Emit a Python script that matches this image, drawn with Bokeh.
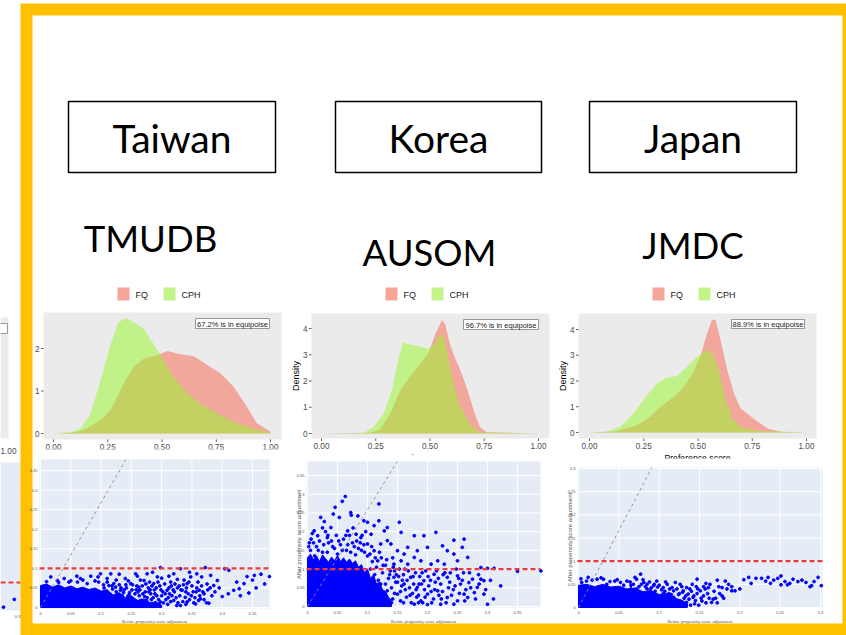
import math
from bokeh.plotting import figure
from bokeh.models import Range1d
from bokeh.core.properties import value
from bokeh.embed import file_html
from bokeh.resources import INLINE

# ---------------- data ----------------
countries = ["Taiwan", "Korea", "Japan"]
databases = ["TMUDB", "AUSOM", "JMDC"]
equipoise_notes = ["67.2% is in equipoise", "96.7% is in equipoise", "88.9% is in equipoise"]
groups = ["FQ", "CPH"]
density_title = "Density"
pref_title = "Preference score"
before_title = "Before propensity score adjustment"
after_title = "After propensity score adjustment"

pref_ticks = [0.0, 0.25, 0.5, 0.75, 1.0]
pref_tick_labels = ["0.00", "0.25", "0.50", "0.75", "1.00"]
tw_density_ticks = [0, 1, 2]
ko_density_ticks = [0, 1, 2, 3, 4]
jp_density_ticks = [0, 1, 2, 3, 4]

# preference-score densities
tw_fq_x = [0.0, 0.08, 0.14, 0.217, 0.263, 0.324, 0.37, 0.415, 0.478, 0.524, 0.57, 0.616, 0.647, 0.708, 0.77, 0.83, 0.891, 0.937, 1.0]
tw_fq_y = [0.0, 0.01, 0.08, 0.31, 0.55, 1.18, 1.57, 1.76, 1.84, 1.94, 1.88, 1.84, 1.82, 1.61, 1.41, 1.10, 0.63, 0.24, 0.04]
tw_cph_x = [0.0, 0.086, 0.124, 0.17, 0.217, 0.263, 0.30, 0.332, 0.37, 0.415, 0.462, 0.508, 0.554, 0.616, 0.677, 0.754, 0.83, 0.92, 1.0]
tw_cph_y = [0.0, 0.04, 0.11, 0.46, 1.25, 2.10, 2.62, 2.72, 2.62, 2.46, 2.10, 1.72, 1.33, 0.94, 0.70, 0.47, 0.27, 0.12, 0.02]

ko_fq_x = [0.0, 0.225, 0.27, 0.317, 0.363, 0.41, 0.455, 0.494, 0.525, 0.555, 0.57, 0.594, 0.617, 0.647, 0.678, 0.709, 0.73, 0.762, 1.0]
ko_fq_y = [0.0, 0.03, 0.15, 0.76, 1.64, 2.2, 2.65, 3.09, 3.79, 4.32, 4.16, 3.34, 2.84, 2.27, 1.51, 0.69, 0.25, 0.05, 0.0]
ko_cph_x = [0.0, 0.195, 0.24, 0.287, 0.325, 0.356, 0.376, 0.41, 0.455, 0.494, 0.525, 0.548, 0.566, 0.586, 0.609, 0.632, 0.655, 0.686, 0.73, 1.0]
ko_cph_y = [0.0, 0.03, 0.25, 0.76, 1.64, 2.9, 3.47, 3.38, 3.31, 3.22, 3.47, 3.79, 3.66, 2.78, 1.89, 1.14, 0.82, 0.32, 0.05, 0.0]

jp_fq_x = [0.0, 0.126, 0.219, 0.28, 0.327, 0.388, 0.434, 0.48, 0.512, 0.542, 0.565, 0.581, 0.604, 0.635, 0.666, 0.696, 0.727, 0.766, 0.82, 0.881, 1.0]
jp_fq_y = [0.0, 0.05, 0.28, 0.61, 1.0, 1.39, 1.77, 2.36, 3.0, 3.84, 4.39, 4.36, 3.59, 2.42, 1.51, 0.93, 0.74, 0.48, 0.16, 0.03, 0.0]
jp_cph_x = [0.0, 0.08, 0.142, 0.203, 0.265, 0.311, 0.357, 0.404, 0.45, 0.496, 0.542, 0.565, 0.596, 0.627, 0.658, 0.696, 0.773, 1.0]
jp_cph_y = [0.0, 0.03, 0.22, 0.74, 1.45, 1.9, 2.14, 2.19, 2.55, 2.94, 3.2, 3.13, 2.42, 1.26, 0.54, 0.22, 0.06, 0.0]

# standardized differences: before vs after adjustment
smd_ticks = [0.0, 0.05, 0.1, 0.15, 0.2, 0.25, 0.3, 0.35]
smd_tick_labels = ["0", "0.05", "0.1", "0.15", "0.2", "0.25", "0.3", "0.35"]
jp_smd_ticks = [0.0, 0.05, 0.1, 0.15, 0.2, 0.25, 0.3]
jp_smd_tick_labels = ["0", "0.05", "0.1", "0.15", "0.2", "0.25", "0.3"]
threshold = 0.1

tw_diag_x = [0.0, 0.141]
tw_diag_y = [0.0, 0.378]
ko_diag_x = [0.0, 0.150]
ko_diag_y = [0.0, 0.388]
jp_diag_x = [0.0, 0.091]
jp_diag_y = [0.0, 0.302]

# densest part of each cloud (solid blue in the picture)
tw_cloud_x = [0.0, 0.0, 0.01, 0.02, 0.03, 0.04, 0.05, 0.06, 0.07, 0.08, 0.09, 0.10, 0.11, 0.12,
              0.13, 0.14, 0.15, 0.16, 0.17, 0.18, 0.19, 0.20, 0.20]
tw_cloud_y = [0.0, 0.056, 0.060, 0.052, 0.058, 0.050, 0.055, 0.048, 0.052, 0.046, 0.050, 0.042,
              0.045, 0.032, 0.038, 0.025, 0.030, 0.018, 0.022, 0.012, 0.014, 0.006, 0.0]
ko_cloud_x = [0.0, 0.0, 0.005, 0.01, 0.015, 0.02, 0.025, 0.03, 0.035, 0.04, 0.045, 0.05, 0.055,
              0.06, 0.065, 0.07, 0.075, 0.08, 0.085, 0.09, 0.095, 0.10, 0.105, 0.11, 0.115, 0.12,
              0.125, 0.13, 0.135, 0.14, 0.14]
ko_cloud_y = [0.0, 0.13, 0.14, 0.125, 0.135, 0.12, 0.138, 0.128, 0.118, 0.132, 0.122, 0.136, 0.12,
              0.13, 0.118, 0.127, 0.115, 0.122, 0.105, 0.112, 0.09, 0.10, 0.075, 0.085, 0.06, 0.065,
              0.045, 0.04, 0.025, 0.015, 0.0]
jp_cloud_x = [0.0, 0.0, 0.01, 0.02, 0.03, 0.04, 0.05, 0.06, 0.07, 0.08, 0.09, 0.10, 0.11, 0.12,
              0.13, 0.135, 0.135]
jp_cloud_y = [0.0, 0.048, 0.050, 0.045, 0.050, 0.044, 0.046, 0.040, 0.042, 0.034, 0.036, 0.028,
              0.030, 0.020, 0.014, 0.008, 0.0]

tw_points = [
    (0.378, 0.079), (0.364, 0.085), (0.353, 0.082), (0.341, 0.079), (0.356, 0.050), (0.344, 0.037),
    (0.336, 0.061), (0.328, 0.048), (0.324, 0.065), (0.319, 0.044), (0.300, 0.028), (0.304, 0.099),
    (0.311, 0.095), (0.292, 0.069), (0.286, 0.056), (0.281, 0.082), (0.272, 0.102), (0.278, 0.011),
    (0.264, 0.022), (0.262, 0.044), (0.256, 0.009), (0.266, 0.078), (0.258, 0.086), (0.248, 0.078),
    (0.242, 0.061), (0.234, 0.044), (0.239, 0.026), (0.231, 0.099), (0.220, 0.086), (0.215, 0.065),
    (0.209, 0.044), (0.198, 0.102), (0.193, 0.078), (0.187, 0.061), (0.182, 0.035), (0.176, 0.086),
    (0.171, 0.069), (0.162, 0.052), (0.157, 0.086), (0.149, 0.061), (0.140, 0.074), (0.132, 0.044),
    (0.121, 0.061), (0.116, 0.086), (0.110, 0.074), (0.099, 0.086), (0.096, 0.065), (0.083, 0.080),
    (0.077, 0.061), (0.066, 0.074), (0.061, 0.065), (0.047, 0.065), (0.039, 0.074), (0.028, 0.069),
    (0.017, 0.078), (0.198, 0.014), (0.220, 0.018), (0.231, 0.005), (0.242, 0.014),
    (0.105, 0.050), (0.112, 0.035), (0.118, 0.055), (0.125, 0.040), (0.130, 0.058), (0.135, 0.030),
    (0.142, 0.050), (0.147, 0.038), (0.152, 0.058), (0.158, 0.045), (0.163, 0.030), (0.168, 0.055),
    (0.173, 0.040), (0.178, 0.050), (0.183, 0.020), (0.188, 0.045), (0.192, 0.030), (0.197, 0.055),
    (0.202, 0.040), (0.207, 0.020), (0.212, 0.050), (0.217, 0.030), (0.222, 0.060), (0.227, 0.012),
    (0.232, 0.045), (0.237, 0.070), (0.244, 0.035), (0.250, 0.055), (0.255, 0.025), (0.260, 0.065),
    (0.268, 0.040), (0.275, 0.060), (0.283, 0.030), (0.170, 0.010), (0.160, 0.015), (0.150, 0.022),
    (0.140, 0.012), (0.210, 0.008), (0.190, 0.012), (0.180, 0.065), (0.165, 0.070), (0.145, 0.068),
    (0.125, 0.070), (0.110, 0.065), (0.090, 0.068), (0.070, 0.070), (0.050, 0.068), (0.030, 0.064),
    (0.010, 0.066),
    (0.102, 0.020), (0.108, 0.012), (0.115, 0.025), (0.122, 0.018), (0.128, 0.008), (0.133, 0.020),
    (0.138, 0.045), (0.144, 0.028), (0.155, 0.010), (0.161, 0.040), (0.166, 0.018), (0.172, 0.028),
    (0.177, 0.012), (0.181, 0.045), (0.186, 0.025), (0.191, 0.050), (0.195, 0.020), (0.200, 0.030),
    (0.205, 0.060), (0.213, 0.035), (0.219, 0.045), (0.224, 0.025), (0.229, 0.055), (0.235, 0.015),
    (0.241, 0.050), (0.246, 0.020), (0.252, 0.040), (0.258, 0.050), (0.263, 0.030), (0.270, 0.020),
    (0.276, 0.045), (0.288, 0.040), (0.295, 0.050), (0.310, 0.035), (0.330, 0.030), (0.350, 0.070),
    (0.370, 0.060), (0.200, 0.075), (0.212, 0.080), (0.226, 0.072), (0.246, 0.090), (0.185, 0.090),
    (0.160, 0.080), (0.130, 0.085), (0.095, 0.078), (0.060, 0.080),
    (0.104, 0.058), (0.109, 0.042), (0.113, 0.056), (0.119, 0.047), (0.124, 0.052), (0.127, 0.034),
    (0.133, 0.050), (0.137, 0.038), (0.141, 0.058), (0.146, 0.032), (0.151, 0.045), (0.156, 0.035),
    (0.159, 0.055), (0.164, 0.045), (0.169, 0.035), (0.174, 0.060), (0.176, 0.025), (0.179, 0.040),
    (0.184, 0.055), (0.189, 0.035), (0.194, 0.065), (0.199, 0.045), (0.203, 0.012), (0.206, 0.035),
    (0.211, 0.025), (0.216, 0.055), (0.221, 0.040), (0.226, 0.050), (0.230, 0.030), (0.236, 0.058),
    (0.240, 0.040), (0.245, 0.065), (0.249, 0.030), (0.253, 0.012), (0.257, 0.040), (0.261, 0.018),
    (0.266, 0.055), (0.270, 0.035), (0.274, 0.012), (0.280, 0.050), (0.150, 0.005), (0.165, 0.008),
    (0.185, 0.005), (0.175, 0.018), (0.195, 0.008), (0.215, 0.015), (0.225, 0.005), (0.240, 0.008),
]
ko_points = [
    (0.063, 0.294), (0.058, 0.281), (0.046, 0.265), (0.119, 0.274), (0.072, 0.251), (0.073, 0.244),
    (0.043, 0.247), (0.022, 0.238), (0.028, 0.227), (0.084, 0.242), (0.094, 0.229), (0.100, 0.225),
    (0.111, 0.216), (0.119, 0.229), (0.053, 0.238), (0.153, 0.225), (0.128, 0.202), (0.133, 0.211),
    (0.214, 0.198), (0.156, 0.198), (0.178, 0.189), (0.194, 0.189), (0.244, 0.177), (0.261, 0.180),
    (0.233, 0.149), (0.244, 0.140), (0.225, 0.162), (0.200, 0.158), (0.183, 0.149), (0.167, 0.158),
    (0.161, 0.140), (0.150, 0.149), (0.139, 0.167), (0.133, 0.176), (0.122, 0.167), (0.258, 0.158),
    (0.267, 0.131), (0.250, 0.122), (0.228, 0.113), (0.217, 0.122), (0.206, 0.113), (0.189, 0.122),
    (0.178, 0.131), (0.167, 0.113), (0.156, 0.122), (0.144, 0.113), (0.289, 0.104), (0.300, 0.102),
    (0.311, 0.102), (0.350, 0.094), (0.389, 0.095), (0.294, 0.069), (0.289, 0.073), (0.275, 0.073),
    (0.269, 0.064), (0.283, 0.051), (0.294, 0.033), (0.300, 0.006), (0.278, 0.037), (0.261, 0.033),
    (0.267, 0.024), (0.250, 0.015), (0.244, 0.006), (0.233, 0.024), (0.222, 0.006), (0.217, 0.042),
    (0.200, 0.033), (0.189, 0.015), (0.178, 0.006), (0.183, 0.051), (0.172, 0.078), (0.161, 0.060),
    (0.150, 0.033), (0.144, 0.078), (0.133, 0.042), (0.122, 0.060), (0.128, 0.015), (0.233, 0.078),
    (0.250, 0.082), (0.211, 0.086), (0.194, 0.069), (0.222, 0.060),
    (0.011, 0.202), (0.006, 0.180), (0.017, 0.189), (0.033, 0.184), (0.039, 0.211), (0.067, 0.202),
    (0.081, 0.193), (0.089, 0.184), (0.106, 0.193), (0.100, 0.167), (0.111, 0.149), (0.117, 0.122),
    (0.005, 0.150), (0.015, 0.160), (0.025, 0.145), (0.035, 0.170), (0.045, 0.155), (0.055, 0.165),
    (0.065, 0.150), (0.075, 0.170), (0.085, 0.155), (0.095, 0.145), (0.012, 0.135), (0.050, 0.140),
    (0.080, 0.138), (0.105, 0.100), (0.112, 0.085), (0.118, 0.070), (0.125, 0.090), (0.130, 0.060),
    (0.135, 0.075), (0.140, 0.050), (0.145, 0.095), (0.150, 0.065), (0.155, 0.040), (0.160, 0.085),
    (0.165, 0.025), (0.170, 0.050), (0.175, 0.035), (0.180, 0.090), (0.185, 0.030), (0.190, 0.060),
    (0.195, 0.045), (0.205, 0.070), (0.210, 0.020), (0.215, 0.095), (0.225, 0.040), (0.235, 0.050),
    (0.240, 0.030), (0.255, 0.060), (0.260, 0.090),
    (0.003, 0.170), (0.008, 0.195), (0.020, 0.175), (0.030, 0.200), (0.040, 0.175), (0.048, 0.190),
    (0.060, 0.180), (0.070, 0.190), (0.078, 0.160), (0.088, 0.170), (0.097, 0.200), (0.104, 0.140),
    (0.108, 0.120), (0.115, 0.105), (0.123, 0.130), (0.130, 0.110), (0.138, 0.095), (0.142, 0.130),
    (0.148, 0.085), (0.153, 0.100), (0.158, 0.070), (0.163, 0.045), (0.168, 0.095), (0.173, 0.010),
    (0.177, 0.060), (0.182, 0.025), (0.187, 0.080), (0.192, 0.010), (0.197, 0.095), (0.202, 0.055),
    (0.207, 0.010), (0.212, 0.045), (0.218, 0.075), (0.223, 0.020), (0.229, 0.090), (0.237, 0.065),
    (0.243, 0.045), (0.248, 0.100), (0.253, 0.035), (0.258, 0.070), (0.264, 0.045), (0.270, 0.090),
    (0.280, 0.020), (0.285, 0.085), (0.297, 0.045), (0.305, 0.070), (0.310, 0.020), (0.322, 0.055),
    (0.140, 0.010), (0.120, 0.030), (0.110, 0.020), (0.155, 0.015),
    (0.002, 0.160), (0.010, 0.170), (0.018, 0.150), (0.027, 0.165), (0.033, 0.145), (0.042, 0.160),
    (0.052, 0.175), (0.058, 0.150), (0.067, 0.165), (0.072, 0.145), (0.082, 0.175), (0.090, 0.150),
    (0.094, 0.165), (0.100, 0.135), (0.107, 0.160), (0.113, 0.130), (0.120, 0.145), (0.126, 0.110),
    (0.132, 0.125), (0.137, 0.085), (0.143, 0.105), (0.147, 0.065), (0.152, 0.080), (0.157, 0.055),
    (0.162, 0.100), (0.166, 0.070), (0.171, 0.030), (0.176, 0.080), (0.181, 0.045), (0.186, 0.060),
    (0.191, 0.090), (0.196, 0.025), (0.201, 0.080), (0.206, 0.040), (0.213, 0.065), (0.219, 0.030),
    (0.226, 0.085), (0.231, 0.010), (0.238, 0.090), (0.246, 0.055), (0.252, 0.075), (0.262, 0.015),
    (0.272, 0.050), (0.286, 0.060), (0.145, 0.035), (0.160, 0.010), (0.185, 0.010), (0.200, 0.005),
    (0.130, 0.005), (0.142, 0.020), (0.034, 0.190), (0.064, 0.190), (0.091, 0.190), (0.025, 0.210),
    (0.076, 0.210),
]
jp_points = [
    (0.211, 0.065), (0.214, 0.052), (0.220, 0.063), (0.227, 0.063), (0.232, 0.057), (0.235, 0.065),
    (0.238, 0.052), (0.242, 0.059), (0.247, 0.063), (0.251, 0.068), (0.251, 0.049), (0.256, 0.056),
    (0.259, 0.049), (0.262, 0.052), (0.266, 0.061), (0.272, 0.056), (0.277, 0.059), (0.282, 0.054),
    (0.287, 0.045), (0.289, 0.047), (0.292, 0.056), (0.297, 0.065), (0.301, 0.047),
    (0.182, 0.057), (0.172, 0.059), (0.178, 0.043), (0.184, 0.040), (0.190, 0.036), (0.194, 0.036),
    (0.158, 0.052), (0.161, 0.043), (0.165, 0.011), (0.167, 0.018), (0.147, 0.061), (0.153, 0.014),
    (0.141, 0.050), (0.134, 0.043), (0.130, 0.036), (0.126, 0.050), (0.120, 0.054), (0.116, 0.043),
    (0.110, 0.050), (0.105, 0.043), (0.097, 0.057), (0.093, 0.047), (0.089, 0.036), (0.085, 0.050),
    (0.077, 0.072), (0.081, 0.054), (0.072, 0.061), (0.068, 0.050), (0.060, 0.057), (0.052, 0.054),
    (0.045, 0.057), (0.039, 0.056), (0.031, 0.061), (0.023, 0.061), (0.017, 0.059), (0.010, 0.057),
    (0.004, 0.054), (0.118, 0.022), (0.126, 0.014), (0.134, 0.011), (0.110, 0.007), (0.101, 0.014),
    (0.143, 0.025), (0.151, 0.036), (0.136, 0.029),
    (0.065, 0.040), (0.075, 0.045), (0.085, 0.040), (0.095, 0.035), (0.105, 0.030), (0.115, 0.028),
    (0.125, 0.030), (0.140, 0.035), (0.145, 0.015), (0.155, 0.025), (0.160, 0.030), (0.170, 0.020),
    (0.175, 0.030),
    (0.003, 0.062), (0.012, 0.065), (0.028, 0.064), (0.035, 0.050), (0.048, 0.060), (0.056, 0.048),
    (0.064, 0.055), (0.070, 0.065), (0.080, 0.060), (0.088, 0.055), (0.094, 0.050), (0.100, 0.048),
    (0.108, 0.055), (0.113, 0.040), (0.122, 0.040), (0.128, 0.045), (0.131, 0.020), (0.138, 0.040),
    (0.146, 0.045), (0.149, 0.005), (0.157, 0.040), (0.163, 0.050), (0.168, 0.035), (0.174, 0.045),
    (0.180, 0.020), (0.186, 0.050), (0.190, 0.045), (0.200, 0.040), (0.205, 0.060),
    (0.065, 0.048), (0.072, 0.040), (0.078, 0.050), (0.083, 0.045), (0.090, 0.042), (0.098, 0.044),
    (0.103, 0.038), (0.107, 0.035), (0.112, 0.030), (0.118, 0.036), (0.124, 0.028), (0.129, 0.033),
    (0.133, 0.025), (0.137, 0.018), (0.142, 0.022), (0.147, 0.030), (0.152, 0.020), (0.158, 0.010),
    (0.162, 0.020), (0.172, 0.010), (0.178, 0.025), (0.155, 0.045), (0.139, 0.005), (0.144, 0.008),
    (0.121, 0.010), (0.148, 0.040),
]
# right edge of the previous slide's scatter (cut off at the far left)
frag_points = [(0.343, 0.035), (0.325, 0.005)]
frag_tick = [0.35]
frag_tick_label = ["0.35"]
frag_dens_tick_label = ["1.00"]

# ---------------- styling / layout ----------------
W, H, OFF = 846, 635, 0
FQ_FILL, CPH_FILL = "#FA6450", "#97F929"
FQ_KEY, CPH_KEY = "#F6A599", "#C2F48A"
PANEL_BG = "#EBEBEB"
PLOTLY_BG = "#E5ECF6"
BLUE = "#0000FF"
RED = "#F03A3A"
YELLOW = "#FFC000"
SANS = "Liberation Sans"

p = figure(width=W, height=H, output_backend="svg", toolbar_location=None,
           x_range=Range1d(OFF, OFF + W), y_range=Range1d(OFF + H, OFF),
           x_axis_location=None, y_axis_location=None, min_border=0)
p.grid.visible = False
p.outline_line_color = None
p.background_fill_color = "white"
p.border_fill_color = "white"


def add_ranges(name, xa, pxa, xb, pxb, ya, pya, yb, pyb):
    sx = (pxb - pxa) / (xb - xa)
    xs = xa - (pxa - OFF) / sx
    p.extra_x_ranges[name] = Range1d(xs, xs + W / sx)
    sy = (pya - pyb) / (yb - ya)
    ys = ya - (OFF + H - pya) / sy
    p.extra_y_ranges[name] = Range1d(ys, ys + H / sy)


def text(xs, ys, labels, size, color="#000000", align="center", baseline="middle",
         font=SANS, angle=0.0, xr="default", yr="default"):
    p.text(x=list(xs), y=list(ys), text=list(labels), text_font=value(font),
           text_font_size=f"{size}px", text_color=color, text_align=align,
           text_baseline=baseline, angle=angle, x_range_name=xr, y_range_name=yr)


def box(l, t, r, b, fill, line=None, lw=1.0, **kw):
    p.quad(left=[l], right=[r], top=[t], bottom=[b], fill_color=fill,
           line_color=line, line_width=lw, **kw)


# --- fragments of the neighbouring slide (far left) ---
add_ranges("frag", 0.0, 18 - 0.35 * 600, 0.35, 18, 0.0, 608, 0.1, 582)
box(0, 462, 20, 610, PLOTLY_BG)
p.segment(x0=[0], x1=[20], y0=[threshold], y1=[threshold], line_color=RED, line_width=2.2,
          line_dash="5 3", y_range_name="frag")
fx = [a for a, b in frag_points]
fy = [b for a, b in frag_points]
p.scatter(x=fx, y=fy, size=2.8, color=BLUE, x_range_name="frag", y_range_name="frag")
text(frag_tick, [616], frag_tick_label, 4, color="#555555", xr="frag")
box(0, 317, 8, 438, PANEL_BG)
box(-30, 323, 7, 333, "white", line="#7F7F7F", lw=0.8)
text([8], [450], frag_dens_tick_label, 8.2, color="#4D4D4D")

# --- yellow slide frame ---
box(20, 3, 900, 700, YELLOW)
box(32, 15, 842, 623, "white")

# --- country boxes and database names ---
p.quad(left=[68, 335, 589], right=[275, 541, 796], top=[101] * 3, bottom=[172] * 3,
       fill_color=None, line_color="black", line_width=1.5)
text([171.5, 438, 692.5], [137.5] * 3, countries, 39, font="Lato")
text([150, 429, 692.5], [237.5, 251.5, 244.5], databases, 36.5, font="Lato")


# --- density panels ---
def density_panel(name, frame, x0px, x1px, y0px, yref, yrefpx, fq_x, fq_y, cph_x, cph_y,
                  yticks, note, note_box, leg_x, show_ylabel):
    L, T, R, B = frame
    add_ranges(name, 0.0, x0px, 1.0, x1px, 0.0, y0px, yref, yrefpx)
    box(L, T, R, B, PANEL_BG)
    p.varea(x=fq_x, y1=[0.0] * len(fq_x), y2=fq_y, fill_color=FQ_FILL, fill_alpha=0.5,
            x_range_name=name, y_range_name=name)
    p.varea(x=cph_x, y1=[0.0] * len(cph_x), y2=cph_y, fill_color=CPH_FILL, fill_alpha=0.5,
            x_range_name=name, y_range_name=name)
    n = len(pref_ticks)
    p.segment(x0=pref_ticks, x1=pref_ticks, y0=[B] * n, y1=[B + 2.5] * n,
              line_color="#333333", line_width=0.8, x_range_name=name)
    text(pref_ticks, [B + 7.5] * n, pref_tick_labels, 8.2, color="#4D4D4D", xr=name)
    m = len(yticks)
    p.segment(x0=[L - 2.5] * m, x1=[L] * m, y0=yticks, y1=yticks,
              line_color="#333333", line_width=0.8, y_range_name=name)
    text([L - 4] * m, yticks, [str(t) for t in yticks], 8.2, color="#4D4D4D",
         align="right", yr=name)
    if show_ylabel:
        text([L - 16], [(T + B) / 2], [density_title], 9, angle=math.pi / 2)
    text([(L + R) / 2], [B + 19], [pref_title], 8.7)
    # annotation
    nl, nt, nr, nb = note_box
    box(nl, nt, nr, nb, "white", line="#7F7F7F", lw=0.8)
    text([(nl + nr) / 2], [(nt + nb) / 2 + 0.5], [note], 7.5, color="#1A1A1A")
    # legend
    box(leg_x, 287, leg_x + 12, 300, FQ_KEY)
    box(leg_x + 46, 287, leg_x + 58, 300, CPH_KEY)
    text([leg_x + 18, leg_x + 64], [294, 294], groups, 9, color="#1A1A1A", align="left")


density_panel("d_tw", (43, 312, 281, 439), 53, 270, 433, 2, 348,
              tw_fq_x, tw_fq_y, tw_cph_x, tw_cph_y, tw_density_ticks,
              equipoise_notes[0], (195, 318, 269, 328), 117, False)
density_panel("d_ko", (311, 313, 549, 438), 321, 538, 433, 4, 328,
              ko_fq_x, ko_fq_y, ko_cph_x, ko_cph_y, ko_density_ticks,
              equipoise_notes[1], (463, 319, 538, 329), 385, True)
density_panel("d_jp", (578, 313, 816, 438), 589, 806, 432, 4, 329,
              jp_fq_x, jp_fq_y, jp_cph_x, jp_cph_y, jp_density_ticks,
              equipoise_notes[2], (731, 319, 804, 328), 652, True)

# white backgrounds of the scatter images (they overlap the density plots a little)
box(33, 449, 292, 622, "white")
box(292, 454, 560, 622, "white")
box(560, 458, 841, 622, "white")


# --- scatter panels ---
def scatter_panel(name, frame, x0px, xref, xrefpx, y0px, yref, yrefpx, ticks, labels,
                  cloud_x, cloud_y, pts, diag_x, diag_y, xtitle_y, ytitle_x):
    L, T, R, B = frame
    add_ranges(name, 0.0, x0px, xref, xrefpx, 0.0, y0px, yref, yrefpx)
    box(L, T, R, B, PLOTLY_BG)
    n = len(ticks)
    p.segment(x0=ticks, x1=ticks, y0=[B] * n, y1=[T] * n, line_color="white",
              line_width=1, x_range_name=name)
    p.segment(x0=[L] * n, x1=[R] * n, y0=ticks, y1=ticks, line_color="white",
              line_width=1, y_range_name=name)
    p.patch(x=cloud_x, y=cloud_y, fill_color=BLUE, line_color=BLUE, line_width=1,
            x_range_name=name, y_range_name=name)
    xs = [a for a, b in pts]
    ys = [b for a, b in pts]
    p.scatter(x=xs, y=ys, size=2.8, color=BLUE, x_range_name=name, y_range_name=name)
    p.line(x=diag_x, y=diag_y, line_color="#8C8C8C", line_width=0.9, line_dash="3 3",
           x_range_name=name, y_range_name=name)
    p.segment(x0=[L], x1=[R], y0=[threshold], y1=[threshold], line_color=RED,
              line_width=2.2, line_dash="5 3", y_range_name=name)
    text(ticks, [B + 5] * n, labels, 4, color="#555555", xr=name)
    text([L - 2] * n, ticks, labels, 4, color="#555555", align="right", yr=name)
    text([(L + R) / 2], [xtitle_y], [before_title], 4.6, color="#555555",
         font="Liberation Sans Narrow")
    if ytitle_x is not None:
        text([ytitle_x], [(T + B) / 2], [after_title], 6, color="#555555",
             angle=math.pi / 2)


scatter_panel("s_tw", (39, 459, 269, 608), 40, 0.35, 252, 607, 0.35, 470,
              smd_ticks, smd_tick_labels, tw_cloud_x, tw_cloud_y, tw_points,
              tw_diag_x, tw_diag_y, 621, None)
scatter_panel("s_ko", (306, 461, 540, 607), 307, 0.35, 517, 606, 0.35, 475,
              smd_ticks, smd_tick_labels, ko_cloud_x, ko_cloud_y, ko_points,
              ko_diag_x, ko_diag_y, 621, 298)
scatter_panel("s_jp", (577, 467, 822, 607), 578, 0.3, 820, 607, 0.3, 468,
              jp_smd_ticks, jp_smd_tick_labels, jp_cloud_x, jp_cloud_y, jp_points,
              jp_diag_x, jp_diag_y, 621, 569)

open("out.html", "w").write(file_html(p, INLINE))
